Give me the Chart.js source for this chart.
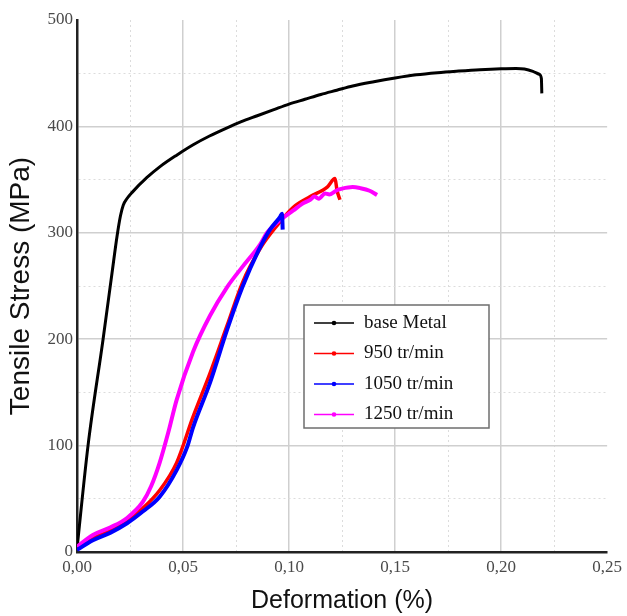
<!DOCTYPE html>
<html><head><meta charset="utf-8">
<script src="https://cdn.jsdelivr.net/npm/chart.js@4.4.0/dist/chart.umd.min.js"></script>
<style>html,body{margin:0;padding:0;background:#fff;overflow:hidden}</style>
</head><body>
<canvas id="c" width="627" height="616"></canvas>
<script>
// ---- data (strain in %, stress in MPa) ----
const seriesNames = ['base Metal', '950 tr/min', '1050 tr/min', '1250 tr/min'];

const baseStrain = [0, 0.0052, 0.0123, 0.0165, 0.0189, 0.0205, 0.0218, 0.0235, 0.026, 0.033, 0.039, 0.047, 0.055, 0.0625, 0.070, 0.0775, 0.085, 0.0925, 0.100, 0.1075, 0.115, 0.1225, 0.130, 0.140, 0.150, 0.160, 0.170, 0.180, 0.190, 0.200, 0.207, 0.211, 0.215, 0.218, 0.219, 0.2192];
const baseStress = [3, 100, 200, 262, 297, 316, 326, 332, 338, 352, 362, 373, 383, 391, 398, 404.5, 410, 415.5, 421, 425.5, 430, 434, 438, 442, 445.5, 448.5, 450.5, 452, 453.3, 454.2, 454.5, 454, 451.8, 449, 445, 431];

const s950Strain = [0, 0.0075, 0.0156, 0.0236, 0.031, 0.039, 0.047, 0.0547, 0.0627, 0.0708, 0.078, 0.0863, 0.094, 0.102, 0.110, 0.118, 0.1217, 0.1226, 0.124];
const s950Stress = [3, 13, 20, 29, 41, 58, 84, 127, 168, 213, 253, 285, 306, 324, 334, 343, 351, 340, 331];

const s1050Strain = [0, 0.0075, 0.0156, 0.0236, 0.031, 0.039, 0.047, 0.052, 0.0547, 0.0627, 0.0708, 0.078, 0.0855, 0.091, 0.0958, 0.0967, 0.097];
const s1050Stress = [2, 11, 18, 27, 38, 52, 77, 99, 117, 159, 209, 249, 283, 303, 315, 318, 303];

const s1250Strain = [0, 0.0075, 0.0156, 0.0236, 0.031, 0.035, 0.039, 0.043, 0.047, 0.0547, 0.0627, 0.0708, 0.078, 0.0863, 0.0896, 0.0958, 0.102, 0.106, 0.110, 0.112, 0.114, 0.117, 0.119, 0.1226, 0.125, 0.130, 0.1335, 0.138, 0.1415];
const s1250Stress = [5, 16, 23, 32, 47, 62, 84, 112, 143, 188, 222, 249, 268, 289, 300, 312, 321, 327, 331, 334, 332, 337, 336, 340, 341.5, 343, 342, 339.5, 335.5];

const xMajorTicks = [0, 0.05, 0.10, 0.15, 0.20, 0.25];
const yMajorTicks = [0, 100, 200, 300, 400, 500];

function pts(xs, ys) { return xs.map((x, i) => ({ x: x, y: ys[i] })); }

const near = (a, b) => Math.abs(a - b) < 1e-6;
const isMajorX = v => xMajorTicks.some(t => near(t, v));
const isMajorY = v => yMajorTicks.some(t => near(t, v));

function gridColor(isMajor, max) {
  return c => {
    if (!c.tick) return '#cfcfcf';
    if (near(c.tick.value, max)) return 'rgba(0,0,0,0)';
    return isMajor(c.tick.value) ? '#cfcfcf' : '#dcdcdc';
  };
}

const legendPlugin = {
  id: 'boxLegend',
  afterDatasetsDraw(chart) {
    const ctx = chart.ctx;
    const L = 304, T = 305, R = 489, B = 428;
    ctx.save();
    ctx.fillStyle = '#ffffff';
    ctx.fillRect(L, T, R - L, B - T);
    ctx.strokeStyle = '#6e6e6e';
    ctx.lineWidth = 1.5;
    ctx.strokeRect(L, T, R - L, B - T);
    seriesNames.forEach((name, k) => {
      const ds = chart.data.datasets.find(d => d.label === name);
      const y = 323 + k * 30.5;
      ctx.strokeStyle = ds.borderColor;
      ctx.lineWidth = 1.3;
      ctx.beginPath(); ctx.moveTo(314, y); ctx.lineTo(354, y); ctx.stroke();
      ctx.fillStyle = ds.borderColor;
      ctx.beginPath(); ctx.arc(334, y, 2.3, 0, Math.PI * 2); ctx.fill();
      ctx.fillStyle = '#111';
      ctx.font = '19px "Liberation Serif"';
      ctx.textBaseline = 'middle';
      ctx.textAlign = 'left';
      ctx.fillText(ds.label, 364, y);
    });
    ctx.restore();
  }
};

const common = { pointRadius: 0, pointHoverRadius: 0, fill: false, cubicInterpolationMode: 'monotone' };

new Chart(document.getElementById('c'), {
  type: 'line',
  data: {
    datasets: [
      Object.assign({ label: seriesNames[0], data: pts(baseStrain, baseStress), borderColor: '#000000', borderWidth: 3, order: 3 }, common),
      Object.assign({ label: seriesNames[1], data: pts(s950Strain, s950Stress), borderColor: '#ff0000', borderWidth: 3.5, order: 2 }, common),
      Object.assign({ label: seriesNames[2], data: pts(s1050Strain, s1050Stress), borderColor: '#0000ff', borderWidth: 4, order: 0 }, common),
      Object.assign({ label: seriesNames[3], data: pts(s1250Strain, s1250Stress), borderColor: '#ff00ff', borderWidth: 4, order: 1 }, common)
    ]
  },
  options: {
    responsive: false,
    animation: false,
    devicePixelRatio: 1,
    layout: { padding: { top: 20, right: 18, left: 0, bottom: 0 } },
    plugins: { legend: { display: false }, tooltip: { enabled: false } },
    scales: {
      x: {
        type: 'linear', min: 0, max: 0.25,
        afterFit: s => { s.height = 64; },
        ticks: {
          stepSize: 0.025, autoSkip: false, maxRotation: 0, padding: 5,
          color: '#4a4a4a', font: { family: '"Liberation Serif"', size: 17 },
          callback: v => isMajorX(v) ? v.toFixed(2).replace('.', ',') : ''
        },
        grid: {
          drawTicks: false,
          color: gridColor(isMajorX, 0.25),
          lineWidth: c => (c.tick && isMajorX(c.tick.value)) ? 1.5 : 1
        },
        border: {
          display: true, color: '#222', width: 2.5,
          dash: c => (c.tick && !isMajorX(c.tick.value)) ? [2, 3] : []
        },
        title: {
          display: true, text: 'Deformation (%)', color: '#111',
          font: { family: '"Liberation Sans"', size: 25 }, padding: { top: 0, bottom: 0 }
        }
      },
      y: {
        type: 'linear', min: 0, max: 500,
        afterFit: s => { s.width = 77; },
        ticks: {
          stepSize: 50, autoSkip: false, padding: 4,
          color: '#4a4a4a', font: { family: '"Liberation Serif"', size: 17 },
          callback: v => isMajorY(v) ? String(v) : ''
        },
        grid: {
          drawTicks: false,
          color: gridColor(isMajorY, 500),
          lineWidth: c => (c.tick && isMajorY(c.tick.value)) ? 1.5 : 1
        },
        border: {
          display: true, color: '#222', width: 2.5,
          dash: c => (c.tick && !isMajorY(c.tick.value)) ? [2, 3] : []
        },
        title: {
          display: true, text: 'Tensile Stress (MPa)', color: '#111',
          font: { family: '"Liberation Sans"', size: 28 }, padding: { top: 4, bottom: 0 }
        }
      }
    }
  },
  plugins: [legendPlugin]
});
</script>
</body></html>
